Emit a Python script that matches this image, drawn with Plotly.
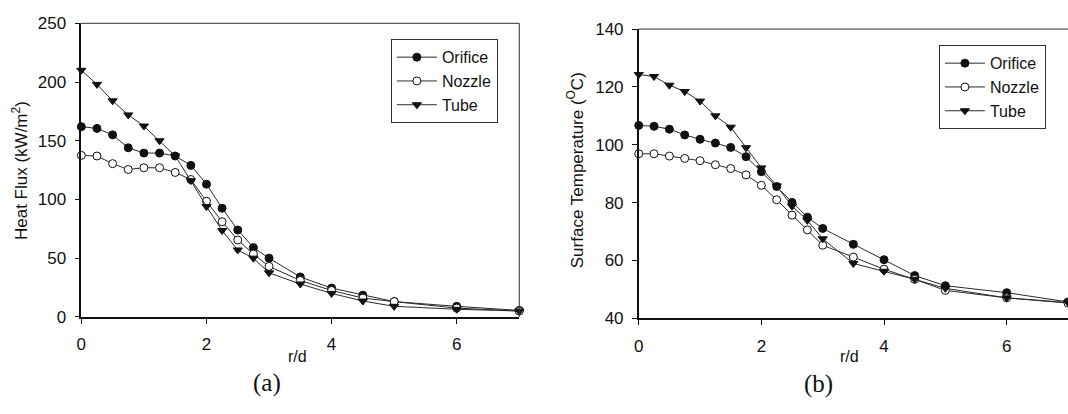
import plotly.graph_objects as go

# radial position r/d (shared by both panels)
r_d = [0, 0.25, 0.5, 0.75, 1, 1.25, 1.5, 1.75, 2, 2.25, 2.5, 2.75, 3, 3.5, 4, 4.5, 5, 6, 7]

# (a) heat flux, kW/m^2
flux_orifice = [162, 160.5, 155, 144, 139.5, 139.5, 137, 129, 113, 92.5, 74, 59, 50, 34, 24.5, 18.5, 13, 9, 5.5]
flux_nozzle = [137.5, 137, 130.5, 125.5, 127, 127, 123, 117, 98.5, 81, 65.5, 53.5, 43, 31, 22.5, 16, 13, 7.5, 5]
flux_tube = [210, 198, 184, 172, 162.5, 150, 137, 116, 94, 73.5, 57, 50, 37.5, 28, 20, 13.5, 9, 6.5, 5]

# (b) surface temperature, deg C
temp_orifice = [106.7, 106.4, 105.4, 103.4, 101.9, 100.6, 99.1, 95.9, 90.7, 85.6, 80.1, 75, 71.1, 65.6, 60.3, 54.8, 51.3, 48.9, 45.7]
temp_nozzle = [96.9, 96.9, 96.1, 95.3, 94.5, 93.1, 91.8, 89.6, 86, 81, 75.7, 70.6, 65.3, 61.2, 57, 53.5, 49.7, 47.1, 45.3]
temp_tube = [124.3, 123.6, 120.6, 118.4, 115.1, 110, 106.1, 99, 92, 85.8, 78.8, 73.9, 67.5, 59, 56.3, 53.5, 50.4, 47.1, 45.5]

series_names = ["Orifice", "Nozzle", "Tube"]

W, H = 1068, 414
FONT = "Liberation Sans"
SERIF = "Liberation Serif"
INK = "#111111"


def px_x(p):
    return p / W


def px_y(p):
    return 1 - p / H


styles = {
    "Orifice": dict(symbol="circle", color=INK),
    "Nozzle": dict(symbol="circle", color="white"),
    "Tube": dict(symbol="triangle-down", color=INK),
}

fig = go.Figure()

panels = [
    ("x", "y", "legend", [flux_orifice, flux_nozzle, flux_tube]),
    ("x2", "y2", "legend2", [temp_orifice, temp_nozzle, temp_tube]),
]
for xa, ya, lg, values in panels:
    for name, vals in zip(series_names, values):
        st = styles[name]
        fig.add_trace(go.Scatter(
            x=r_d, y=vals, name=name, xaxis=xa, yaxis=ya, legend=lg,
            mode="lines+markers", cliponaxis=False,
            line=dict(color="#2a2a2a", width=1),
            marker=dict(symbol=st["symbol"], size=8, color=st["color"],
                        line=dict(color=INK, width=1)),
        ))

axis_common = dict(
    showgrid=False, zeroline=False, showline=True, linecolor=INK, linewidth=1.5,
    ticks="outside", ticklen=5, tickwidth=1.2, tickcolor=INK,
    tickfont=dict(family=FONT, size=17, color=INK),
)
xaxis_common = dict(axis_common, ticklabelstandoff=6)
yaxis_common = dict(axis_common, ticklabelstandoff=5)

# panel geometry in pixels
L_left, L_right, L_top, L_bot = 76.7, 516.7, 15, 322.7
R_left, R_right, R_top, R_bot = 636.7, 1068, 21, 324.3

legend_common = dict(
    xanchor="left", yanchor="top", bordercolor="#333333", borderwidth=1,
    bgcolor="white", font=dict(family=FONT, size=16, color=INK),
    tracegroupgap=0, itemwidth=40,
)

fig.update_layout(
    width=W, height=H, margin=dict(l=0, r=0, t=0, b=0),
    paper_bgcolor="white", plot_bgcolor="white",
    xaxis=dict(domain=[px_x(L_left), px_x(L_right)], range=[0, 7], dtick=2, anchor="y", **xaxis_common),
    yaxis=dict(domain=[px_y(L_bot), px_y(L_top)], range=[0, 250], dtick=50, anchor="x", **yaxis_common),
    xaxis2=dict(domain=[px_x(R_left), 1.0], range=[0, 7], dtick=2, anchor="y2", **xaxis_common),
    yaxis2=dict(domain=[px_y(R_bot), px_y(R_top)], range=[40, 140], dtick=20, anchor="x2", **yaxis_common),
    legend=dict(x=px_x(387.7), y=px_y(31.7), **legend_common),
    legend2=dict(x=px_x(938.3), y=px_y(38), **legend_common),
    showlegend=True,
)

# top and right frame lines
shapes = [
    dict(type="line", xref="paper", yref="paper", x0=px_x(L_left), x1=px_x(L_right),
         y0=px_y(L_top), y1=px_y(L_top), line=dict(color="#333333", width=1)),
    dict(type="line", xref="paper", yref="paper", x0=px_x(L_right), x1=px_x(L_right),
         y0=px_y(L_top), y1=px_y(L_bot), line=dict(color="#333333", width=1)),
    dict(type="line", xref="paper", yref="paper", x0=px_x(R_left), x1=1.0,
         y0=px_y(R_top), y1=px_y(R_top), line=dict(color="#333333", width=1)),
]
fig.update_layout(shapes=shapes)

annotations = [
    dict(text="Heat Flux (kW/m<sup>2</sup>)", x=px_x(15), y=px_y((L_top + L_bot) / 2),
         textangle=-90, font=dict(family=FONT, size=17, color=INK)),
    dict(text="Surface Temperature (<sup>O</sup>C)", x=px_x(573), y=px_y((R_top + R_bot) / 2 - 4),
         textangle=-90, font=dict(family=FONT, size=17, color=INK)),
    dict(text="r/d", x=px_x(294.3), y=px_y(364), font=dict(family=FONT, size=16, color=INK)),
    dict(text="r/d", x=px_x(848.3), y=px_y(364), font=dict(family=FONT, size=16, color=INK)),
    dict(text="(a)", x=px_x(263), y=px_y(392), font=dict(family=SERIF, size=25, color=INK)),
    dict(text="(b)", x=px_x(817), y=px_y(393), font=dict(family=SERIF, size=25, color=INK)),
]
for a in annotations:
    a.update(xref="paper", yref="paper", showarrow=False, xanchor="center", yanchor="middle")
fig.update_layout(annotations=annotations)

fig.write_html("out.html")
